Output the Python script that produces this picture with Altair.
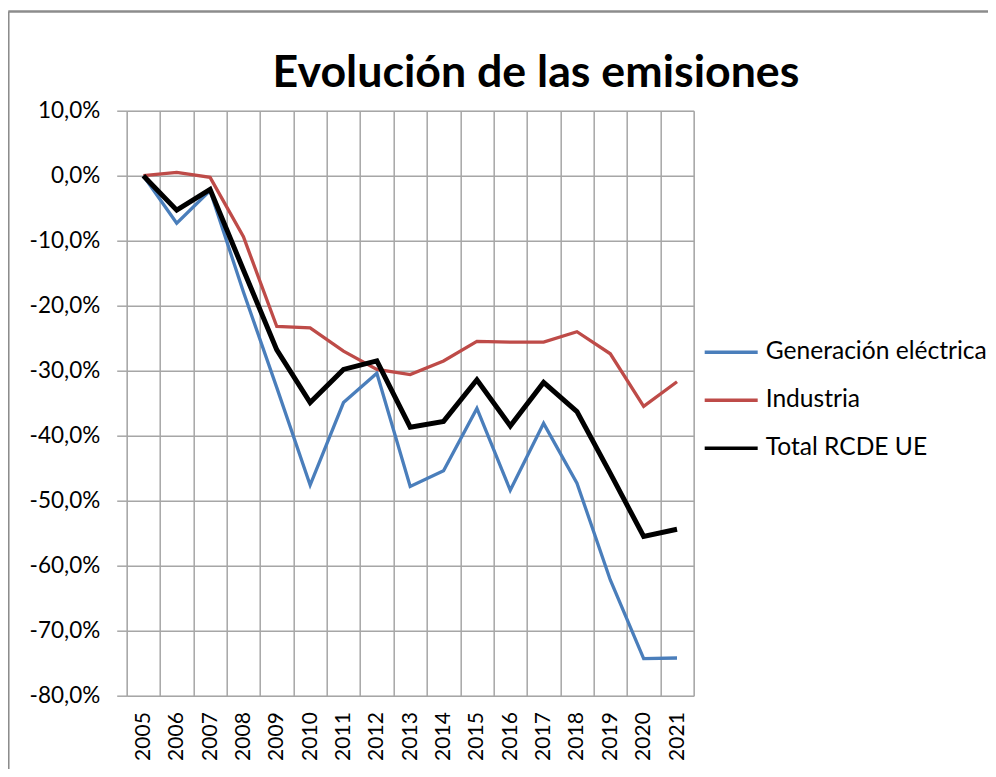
import altair as alt
import pandas as pd

years = [str(y) for y in range(2005, 2022)]
series_names = ["Generación eléctrica", "Industria", "Total RCDE UE"]
gen = [0, -7.3, -2.3, -17.9, -32.6, -47.6, -34.9, -30.4, -47.8, -45.4, -35.8, -48.4, -38.1, -47.3, -62.2, -74.3, -74.2]
ind = [0, 0.5, -0.25, -9.4, -23.2, -23.4, -27.0, -29.8, -30.6, -28.5, -25.5, -25.6, -25.6, -24.0, -27.4, -35.5, -31.7]
tot = [0, -5.3, -2.1, -14.5, -26.8, -34.9, -29.8, -28.5, -38.7, -37.8, -31.4, -38.5, -31.8, -36.3, -45.8, -55.5, -54.4]
y_ticks = list(range(-80, 11, 10))
colors = ["#4A7EBB", "#BE4B48", "#000000"]
widths = [3.3, 3.3, 5]
title_text = "Evolución de las emisiones"

rows = []
for name, vals, w in zip(series_names, [gen, ind, tot], widths):
    for yr, v in zip(years, vals):
        rows.append({"year": yr, "serie": name, "value": v, "w": w})
df = pd.DataFrame(rows)

FONT = "Lato"
GRID = "#a6a6a6"

legend = alt.Legend(
    title=None, orient="none", legendX=576, legendY=213,
    symbolType="stroke", symbolSize=2809, labelOffset=6,
    symbolStrokeWidth=3.5,
    labelFontSize=24.6, labelFont=FONT, labelColor="#000000",
    rowPadding=7, labelLimit=400,
)

lines = alt.Chart(df).mark_line(clip=False).encode(
    x=alt.X("year:O", sort=years, bandPosition=0.5,
            scale=alt.Scale(type="band", paddingInner=0, paddingOuter=0),
            axis=alt.Axis(title=None, labelAngle=-90, ticks=False, domain=False,
                          grid=True, gridColor=GRID, gridWidth=1.5, tickBand="extent",
                          labelFont=FONT, labelFontSize=21, labelColor="#000000",
                          labelPadding=16)),
    y=alt.Y("value:Q", scale=alt.Scale(domain=[-80, 10], nice=False),
            axis=alt.Axis(title=None, values=y_ticks, domain=False,
                          grid=True, gridColor=GRID, gridWidth=1.5,
                          ticks=True, tickSize=10, tickColor=GRID, tickWidth=1.5,
                          labelFont=FONT, labelFontSize=22.5, labelColor="#000000",
                          labelPadding=17,
                          labelExpr="(datum.value < 0 ? '-' : '') + replace(format(abs(datum.value), '.1f'), '.', ',') + '%'")),
    color=alt.Color("serie:N", sort=series_names,
                    scale=alt.Scale(domain=series_names, range=colors), legend=legend),
    strokeWidth=alt.StrokeWidth("w:Q", scale=None, legend=None),
    detail="serie:N",
)

frame_data = alt.Data(values=[{"k": 1}])
left_border = alt.Chart(frame_data).mark_rule(color="#8c8c8c", strokeWidth=2.5, clip=False).encode(
    x=alt.value(-118.4), y=alt.value(-99.2), y2=alt.value(700))
top_border = alt.Chart(frame_data).mark_rule(color="#8c8c8c", strokeWidth=2.5, clip=False).encode(
    x=alt.value(-118.4), x2=alt.value(900), y=alt.value(-99.2))
title = alt.Chart(frame_data).mark_text(
    font=FONT, fontSize=44.7, fontWeight="bold", color="#000000",
    align="center", baseline="alphabetic", clip=False,
).encode(x=alt.value(409.3), y=alt.value(-23.5), text=alt.value(title_text))

chart = alt.layer(left_border, top_border, title, lines).properties(
    width=567, height=585,
    padding={"left": 118.7, "top": 102.7, "right": 294, "bottom": 73},
    autosize=alt.AutoSizeParams(type="none"),
).configure_view(stroke=GRID, strokeWidth=1.5).configure(background="white")

chart.save("out.html", embed_options={"renderer": "svg", "actions": False})
